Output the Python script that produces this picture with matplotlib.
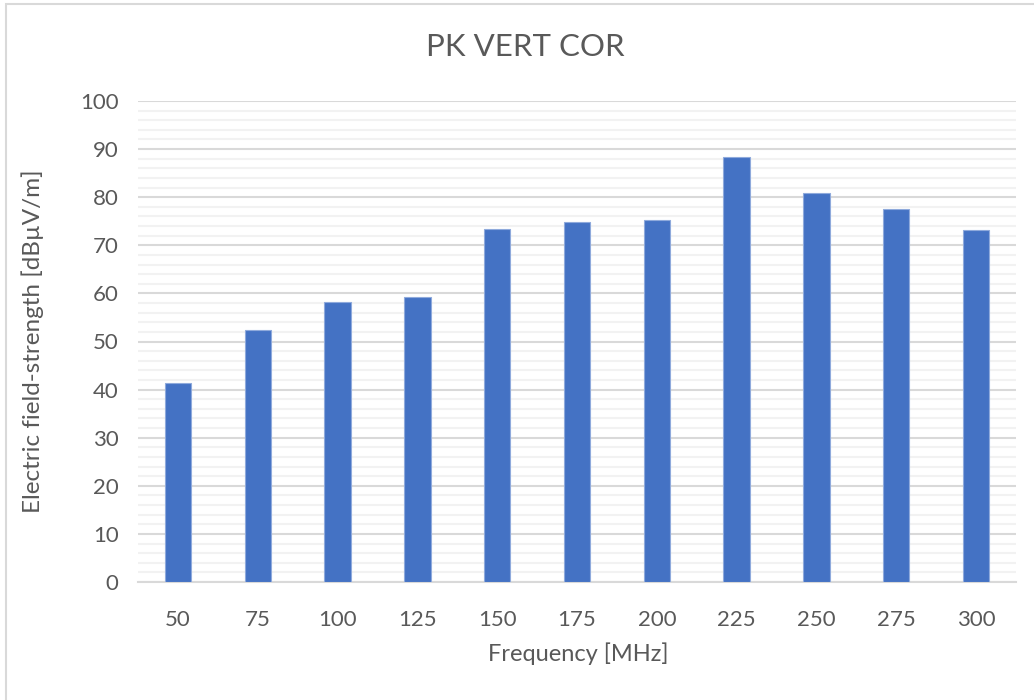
import matplotlib
matplotlib.use('Agg')
import matplotlib.pyplot as plt
from matplotlib.patches import Rectangle
from matplotlib.ticker import MultipleLocator

# Data
frequencies = ['50', '75', '100', '125', '150', '175', '200', '225', '250', '275', '300']
field_strength = [41.4, 52.4, 58.2, 59.3, 73.4, 74.8, 75.3, 88.3, 80.8, 77.6, 73.1]

title = 'PK VERT COR'
x_label = 'Frequency [MHz]'
y_label = 'Electric field-strength [dBµV/m]'

text_color = '#595959'
bar_color = '#4472C4'

plt.rcParams['font.family'] = ['Lato', 'DejaVu Sans']

fig = plt.figure(figsize=(10.34, 7.0), dpi=100)
ax = fig.add_axes([138 / 1034, 1 - 582 / 700, (1016 - 138) / 1034, (582 - 101) / 700])

x = list(range(len(frequencies)))
ax.bar(x, field_strength, width=0.33, color=bar_color, edgecolor='#8faadc',
       linewidth=0.8, zorder=3)

ax.set_xlim(-0.5, len(frequencies) - 0.5)
ax.set_ylim(0, 100)
ax.set_xticks(x)
ax.set_xticklabels(frequencies)
ax.yaxis.set_major_locator(MultipleLocator(10))
ax.yaxis.set_minor_locator(MultipleLocator(2))

ax.grid(axis='y', which='major', color='#d9d9d9', linewidth=1.5, zorder=0)
ax.grid(axis='y', which='minor', color='#f2f2f2', linewidth=1.5, zorder=0)
ax.set_axisbelow(True)

for side in ['top', 'right', 'left']:
    ax.spines[side].set_visible(False)
ax.spines['bottom'].set_color('#d9d9d9')
ax.spines['bottom'].set_linewidth(1.5)

ax.tick_params(axis='both', which='both', length=0, labelsize=16, colors=text_color)
ax.tick_params(axis='x', pad=20)
ax.tick_params(axis='y', pad=14)

fig.text(525 / 1034, 1 - 47 / 700, title, ha='center', va='center',
         fontsize=22.5, color=text_color)
fig.text(578 / 1034, 1 - 654 / 700, x_label, ha='center', va='center',
         fontsize=17, color=text_color)
fig.text(33 / 1034, 1 - 341 / 700, y_label, ha='center', va='center',
         rotation=90, fontsize=17.5, color=text_color)

# chart area border (cut off at right and bottom)
fig.patches.append(Rectangle((5.5 / 1034, -0.1), 1.2, 1 - 3.5 / 700 + 0.1,
                             transform=fig.transFigure, fill=False,
                             edgecolor='#d9d9d9', linewidth=1.5))

fig.savefig('out.png', dpi=100)
